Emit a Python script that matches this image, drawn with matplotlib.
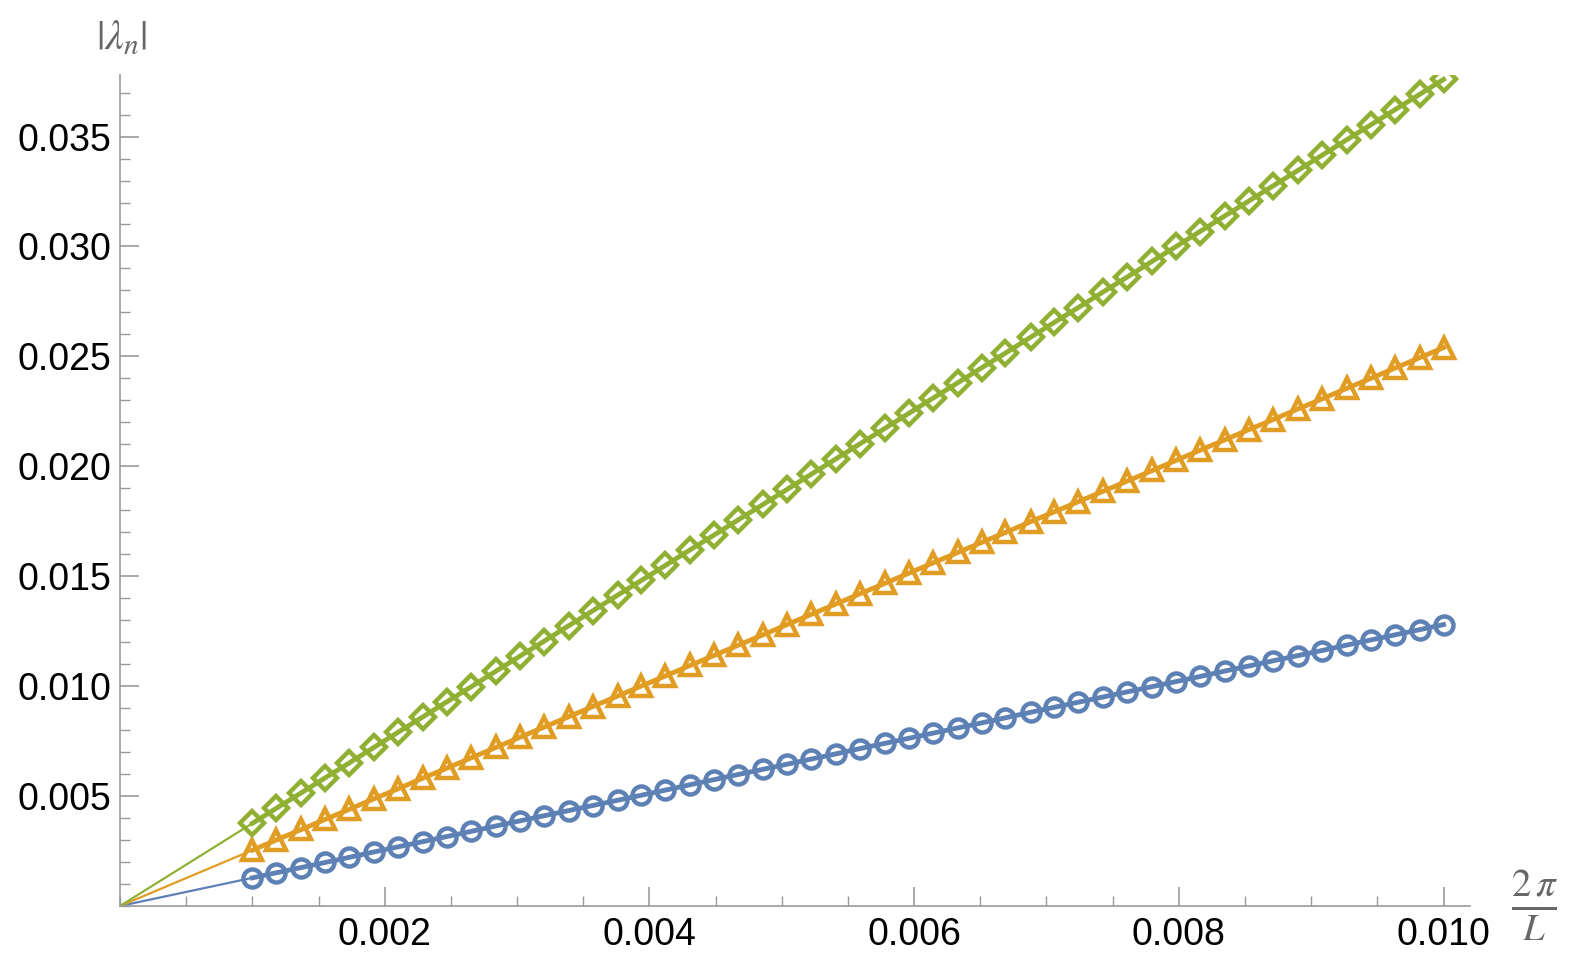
import matplotlib.pyplot as plt
from matplotlib.ticker import MultipleLocator

plt.rcParams['font.family'] = ['Liberation Sans', 'DejaVu Sans']
plt.rcParams['mathtext.fontset'] = 'stix'

x = [0.00100,0.00118,0.00137,0.00155,0.00173,0.00192,0.00210,0.00229,0.00247,0.00265,0.00284,0.00302,0.00320,0.00339,0.00357,0.00376,0.00394,0.00412,0.00431,0.00449,0.00467,0.00486,0.00504,0.00522,0.00541,0.00559,0.00578,0.00596,0.00614,0.00633,0.00651,0.00669,0.00688,0.00706,0.00724,0.00743,0.00761,0.00780,0.00798,0.00816,0.00835,0.00853,0.00871,0.00890,0.00908,0.00927,0.00945,0.00963,0.00982,0.01000]
blue = [0.00128,0.00151,0.00175,0.00198,0.00221,0.00246,0.00269,0.00293,0.00316,0.00339,0.00364,0.00387,0.00410,0.00434,0.00457,0.00481,0.00504,0.00527,0.00552,0.00575,0.00598,0.00622,0.00645,0.00668,0.00692,0.00716,0.00740,0.00763,0.00786,0.00810,0.00833,0.00856,0.00881,0.00904,0.00927,0.00951,0.00974,0.00998,0.01021,0.01044,0.01069,0.01092,0.01115,0.01139,0.01162,0.01187,0.01210,0.01233,0.01257,0.01280]
orange = [0.00254,0.00300,0.00348,0.00394,0.00439,0.00488,0.00533,0.00582,0.00627,0.00673,0.00721,0.00767,0.00813,0.00861,0.00907,0.00955,0.01001,0.01046,0.01095,0.01140,0.01186,0.01234,0.01280,0.01326,0.01374,0.01420,0.01468,0.01514,0.01560,0.01608,0.01654,0.01699,0.01748,0.01793,0.01839,0.01887,0.01933,0.01981,0.02027,0.02073,0.02121,0.02167,0.02212,0.02261,0.02306,0.02355,0.02400,0.02446,0.02494,0.02540]
green = [0.00376,0.00444,0.00515,0.00583,0.00650,0.00722,0.00790,0.00861,0.00929,0.00996,0.01068,0.01136,0.01203,0.01275,0.01342,0.01414,0.01481,0.01549,0.01621,0.01688,0.01756,0.01827,0.01895,0.01963,0.02034,0.02102,0.02173,0.02241,0.02309,0.02380,0.02448,0.02515,0.02587,0.02655,0.02722,0.02794,0.02861,0.02933,0.03000,0.03068,0.03140,0.03207,0.03275,0.03346,0.03414,0.03486,0.03553,0.03621,0.03692,0.03760]

series = [(blue, '#5E81B5', 'o', 13), (orange, '#E19C24', '^', 15), (green, '#8FB032', 'D', 12)]

fig = plt.figure(figsize=(15.78, 9.77), dpi=100)
ax = fig.add_axes([120/1578, 71/977, 1350/1578, 831/977])
for ys, c, m, ms in series:
    ax.plot([0, x[0]], [0, ys[0]], color=c, lw=1.6)
    ax.plot(x, ys, color=c, lw=3.5, marker=m, ms=ms, mfc='none', mec=c, mew=3.2)

ax.set_xlim(0, 0.0102)
ax.set_ylim(0, 0.0378)
for s in ['top', 'right']:
    ax.spines[s].set_visible(False)
for s in ['left', 'bottom']:
    ax.spines[s].set_color('#999999')
    ax.spines[s].set_linewidth(1.2)
ax.xaxis.set_minor_locator(MultipleLocator(0.0005))
ax.yaxis.set_minor_locator(MultipleLocator(0.001))
ax.tick_params(which='both', direction='in', color='#999999', labelsize=27)
ax.tick_params(which='major', length=14, width=1.2)
ax.tick_params(which='minor', length=7, width=1)
ax.set_xticks([0.002, 0.004, 0.006, 0.008, 0.010])
ax.set_xticklabels(['0.002', '0.004', '0.006', '0.008', '0.010'])
ax.set_yticks([0.005, 0.010, 0.015, 0.020, 0.025, 0.030, 0.035])
ax.set_yticklabels(['0.005', '0.010', '0.015', '0.020', '0.025', '0.030', '0.035'])
ax.tick_params(axis='x', pad=8)
ax.tick_params(axis='y', pad=6)

fig.text(122/1578, 1 - 38/977, r'$|\lambda_n|$', fontsize=30, color='#666666', ha='center', va='center')
fig.text(1534/1578, 1 - 905/977, r'$\frac{2\,\pi}{L}$', fontsize=40, color='#666666', ha='center', va='center')

fig.savefig('out.png', dpi=100)
